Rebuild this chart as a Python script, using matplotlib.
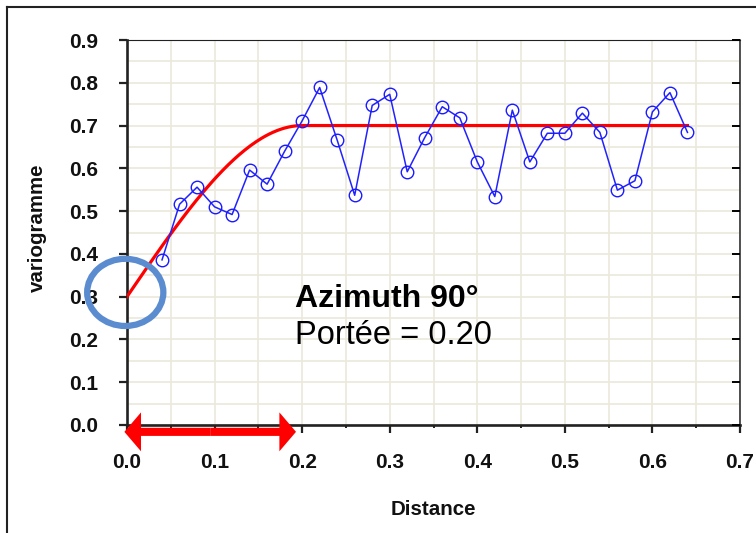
import numpy as np
import matplotlib
matplotlib.use('Agg')
import matplotlib.pyplot as plt
from matplotlib.ticker import MultipleLocator
from matplotlib.patches import Ellipse, FancyArrow
from matplotlib.lines import Line2D

plt.rcParams['font.family'] = ['Liberation Sans', 'DejaVu Sans']

# experimental variogram (lag distance / value)
lags = [0.04, 0.06, 0.08, 0.10, 0.12, 0.14, 0.16, 0.18, 0.20, 0.22,
        0.24, 0.26, 0.28, 0.30, 0.32, 0.34, 0.36, 0.38, 0.40, 0.42,
        0.44, 0.46, 0.48, 0.50, 0.52, 0.54, 0.56, 0.58, 0.60, 0.62, 0.64]
gamma_exp = [0.386, 0.516, 0.556, 0.510, 0.492, 0.596, 0.563, 0.640, 0.711, 0.789,
             0.666, 0.537, 0.747, 0.773, 0.592, 0.672, 0.744, 0.718, 0.615, 0.534,
             0.736, 0.615, 0.682, 0.682, 0.729, 0.684, 0.549, 0.571, 0.732, 0.777, 0.684]

# spherical model
nugget = 0.3
sill = 0.7
portee = 0.20

h = np.linspace(0, 0.64, 300)
r = np.minimum(h / portee, 1.0)
gamma_mod = nugget + (sill - nugget) * (1.5 * r - 0.5 * r**3)

fig = plt.figure(figsize=(7.56, 5.33), dpi=100)
ax = fig.add_axes([127/756, 1 - 425/533, (740 - 127)/756, (425 - 40)/533])

ax.plot(h, gamma_mod, color='#ff0000', lw=2.3, zorder=3)
ax.plot(lags, gamma_exp, color='#2222ff', lw=1.1, marker='o', ms=9,
        mfc='none', mec='#1a1aff', mew=1.0, zorder=4)

ax.set_xlim(0, 0.7)
ax.set_ylim(0, 0.9)
ax.xaxis.set_major_locator(MultipleLocator(0.1))
ax.xaxis.set_minor_locator(MultipleLocator(0.05))
ax.yaxis.set_major_locator(MultipleLocator(0.1))
ax.yaxis.set_minor_locator(MultipleLocator(0.05))
ax.xaxis.set_major_formatter(lambda v, p: f'{v:.1f}')
ax.yaxis.set_major_formatter(lambda v, p: f'{v:.1f}')
ax.grid(which='both', color='#ebe8dc', lw=1.2, zorder=0)
ax.set_axisbelow(True)

for s, w in [('left', 1.9), ('bottom', 1.9), ('top', 0.8), ('right', 1.1)]:
    ax.spines[s].set_linewidth(w)
    ax.spines[s].set_color('#222222')

ax.tick_params(axis='both', which='major', labelsize=15, direction='out',
               length=6, width=1.6, color='#222222', labelcolor='#111111')
ax.tick_params(axis='x', which='major', pad=14)
ax.tick_params(axis='y', which='major', pad=15)
ax.tick_params(axis='x', which='minor', length=2, width=1.4, color='#222222')
ax.tick_params(axis='y', which='minor', length=0)
for t in ax.get_xticklabels() + ax.get_yticklabels():
    t.set_fontweight('bold')

# inward ticks on right side
ax2 = ax.twinx()
ax2.set_ylim(0, 0.9)
ax2.yaxis.set_major_locator(MultipleLocator(0.1))
ax2.tick_params(axis='y', direction='in', length=6, width=1.4, labelright=False)
ax2.grid(False)
for s in ax2.spines.values():
    s.set_visible(False)

xl = ax.set_xlabel('Distance', fontsize=14.8, fontweight='bold', color='#111111')
yl = ax.set_ylabel('variogramme', fontsize=14.8, fontweight='bold', color='#111111')
ax.xaxis.set_label_coords(0.5, (425 - 509.5) / 385)
ax.yaxis.set_label_coords((37 - 127) / 613, (425 - 227.5) / 385)
xl.set_va('center')
yl.set_va('center')

ax.text(0.192, 0.2766, 'Azimuth 90°', fontsize=23, fontweight='bold', va='baseline', ha='left')
ax.text(0.192, 0.189, f'Portée = {portee:.2f}', fontsize=23.5, va='baseline', ha='left')

# highlight of the nugget
ell = Ellipse((-0.002, 0.310), width=0.087, height=0.157, fill=False,
              ec='#5b8cd0', lw=4.5, clip_on=False, zorder=6)
ax.add_patch(ell)

# range arrow (double headed)
ya = -0.016
x0, x1 = -0.003, 0.193
xm = (x0 + x1) / 2
for tip in (x0, x1):
    ax.add_patch(FancyArrow(xm, ya, tip - xm, 0, width=0.019, head_width=0.091,
                            head_length=0.019, length_includes_head=True,
                            color='#ff0000', lw=0, clip_on=False, zorder=7))

# frame of the screenshot
fig.add_artist(Line2D([7/756, 7/756], [0, 1 - 7/533], color='#222222', lw=1.5))
fig.add_artist(Line2D([7/756, 1], [1 - 7/533, 1 - 7/533], color='#222222', lw=1.5))

fig.savefig('out.png', dpi=100)
